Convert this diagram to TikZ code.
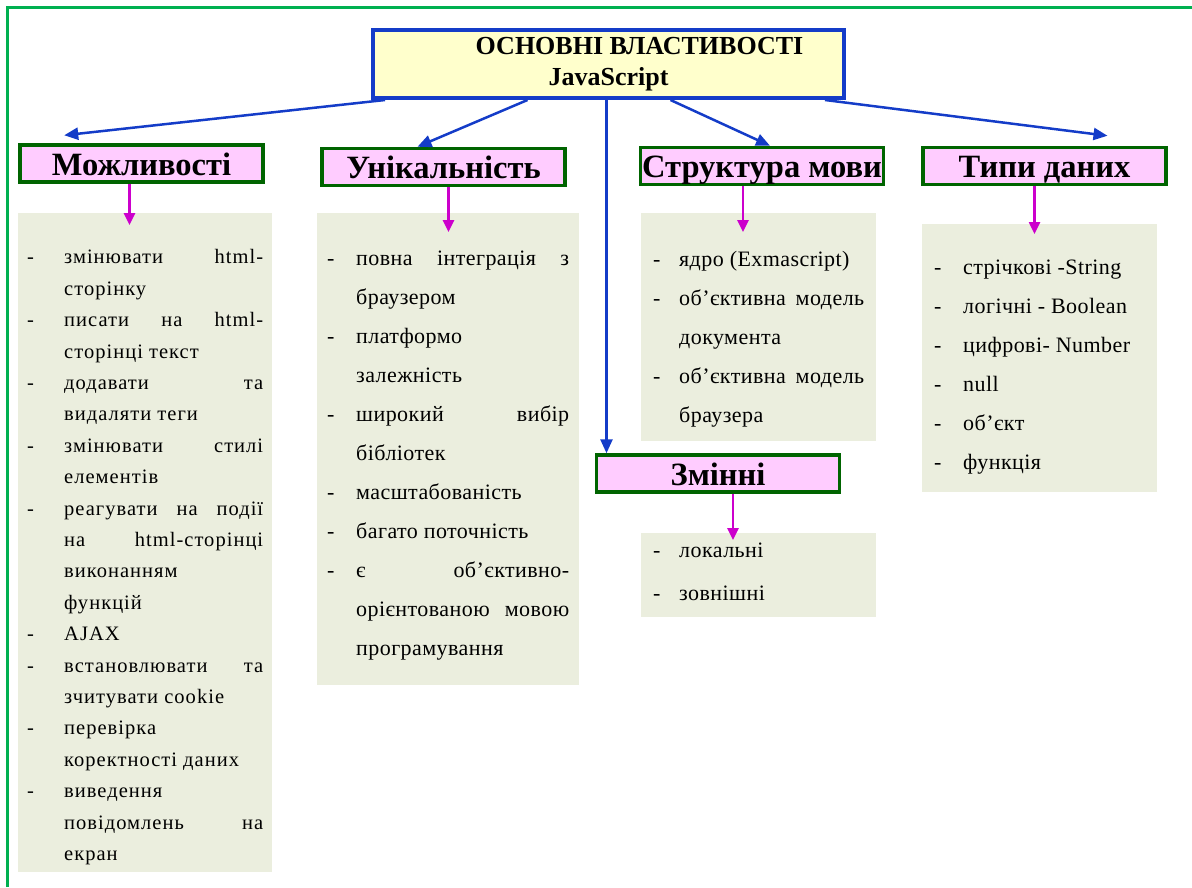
\documentclass[tikz,border=0pt]{standalone}
\usepackage{fontspec}
\setmainfont{Liberation Serif}
\usetikzlibrary{arrows.meta}
\definecolor{jsblue}{RGB}{20,60,200}
\definecolor{jsyellow}{RGB}{255,255,204}
\definecolor{jsgreen}{RGB}{0,100,0}
\definecolor{jspink}{RGB}{255,204,255}
\definecolor{jsmagenta}{RGB}{204,0,204}
\definecolor{jsgray}{RGB}{235,238,222}
\definecolor{jsframe}{RGB}{0,176,80}
\newlength{\dashw}
\newcommand{\itm}[1]{\hangindent=\dashw\hangafter=1\noindent\makebox[\dashw][l]{-}#1\par}
\hyphenpenalty=10000
\exhyphenpenalty=10000

\begin{document}
\begin{tikzpicture}[x=1pt,y=-1pt,
    >={Triangle[length=14pt,width=12pt]},
    topbox/.style={draw=jsblue,fill=jsyellow,line width=4pt,
        minimum width=471pt,minimum height=68pt,align=center,
        font=\fontsize{26}{31}\selectfont\bfseries},
    headbox/.style={draw=jsgreen,fill=jspink,line width=3.5pt,
        minimum width=243pt,minimum height=37pt,inner sep=0pt,
        text height=26pt,text depth=3pt,
        font=\fontsize{32.5}{34}\selectfont\bfseries},
    listbox/.style={fill=jsgray,anchor=north west,align=justify,
        inner xsep=12pt,inner ysep=0pt,
        font=\fontsize{22}{39}\selectfont\addfontfeature{LetterSpace=2}\setlength{\dashw}{29pt}},
    blue arrow/.style={->,draw=jsblue,line width=2.5pt},
    pink arrow/.style={->,draw=jsmagenta,line width=2.5pt,
        >={Triangle[length=12pt,width=11pt]}}]
    \useasboundingbox (0,0) rectangle (1192,887);
    \draw[jsframe,line width=3pt] (7,887) -- (7,7) -- (1192,7);

    \node[topbox] (T) at (608.5,64)
        {\hspace*{62pt}ОСНОВНІ ВЛАСТИВОСТІ\\JavaScript};
    \node[headbox] (A) at (141.5,163.5) {Можливості};
    \node[headbox] (B) at (443.5,167) {Унікальність};
    \node[headbox] (C) at (762,166) {Структура мови};
    \node[headbox] (D) at (1044.5,166) {Типи даних};
    \node[headbox] (E) at (718,473.5) {Змінні};

    \node[listbox,text width=236pt,inner xsep=9pt,minimum height=659pt,
        font=\fontsize{20.5}{31.4}\selectfont\addfontfeature{LetterSpace=5}\setlength{\dashw}{37pt}]
        (a) at (18,213) {%
        \itm{змінювати html-\linebreak сторінку}
        \itm{писати на html-\linebreak сторінці текст}
        \itm{додавати та\linebreak видаляти теги}
        \itm{змінювати стилі\linebreak елементів}
        \itm{реагувати на події\linebreak на html-сторінці\linebreak виконанням\linebreak функцій}
        \itm{AJAX}
        \itm{встановлювати та\linebreak зчитувати cookie}
        \itm{перевірка\linebreak коректності даних}
        \itm{виведення\linebreak повідомлень на\linebreak екран}
        \kern-29pt};
    \node[listbox,text width=242pt,inner xsep=10pt,minimum height=472pt]
        (b) at (317,213) {%
        \itm{повна інтеграція з\linebreak браузером}
        \itm{платформо\linebreak залежність}
        \itm{широкий вибір\linebreak бібліотек}
        \itm{масштабованість}
        \itm{багато поточність}
        \itm{є об’єктивно-\linebreak орієнтованою мовою\linebreak програмування}
        \kern-12pt};
    \node[listbox,text width=211pt,minimum height=228pt,
        font=\fontsize{22}{39}\selectfont\addfontfeature{LetterSpace=2}\setlength{\dashw}{26pt}]
        (c) at (641,213) {%
        \itm{ядро (Exmascript)}
        \itm{об’єктивна модель\linebreak документа}
        \itm{об’єктивна модель\linebreak браузера}
        \kern-24pt};
    \node[listbox,text width=211pt,minimum height=84pt,
        font=\fontsize{22}{43}\selectfont\addfontfeature{LetterSpace=2}\setlength{\dashw}{26pt}]
        (e) at (641,533) {%
        \itm{локальні}
        \itm{зовнішні}
        \kern6pt};
    \node[listbox,text width=211pt,minimum height=268pt]
        (d) at (922,224) {%
        \itm{стрічкові -String}
        \itm{логічні - Boolean}
        \itm{цифрові- Number}
        \itm{null}
        \itm{об’єкт}
        \itm{функція}
        \kern-18pt};

    \draw[blue arrow] ([xshift=14pt]T.south west) to ([xshift=46pt,yshift=8pt]A.north west);
    \draw[blue arrow] ([xshift=-81pt]T.south) to ([xshift=-26pt]B.north);
    \draw[blue arrow] ([xshift=-2pt]T.south) to ([xshift=-2pt]T.south |- E.north);
    \draw[blue arrow] ([xshift=62pt]T.south) to ([xshift=8pt]C.north);
    \draw[blue arrow] ([xshift=-21pt]T.south east) to ([xshift=63pt,yshift=10pt]D.north);

    \draw[pink arrow] ([xshift=-12pt]A.south) to ([xshift=-12pt,yshift=-12pt]A.south |- a.north);
    \draw[pink arrow] ([xshift=5pt]B.south) to ([xshift=5pt,yshift=-19pt]B.south |- b.north);
    \draw[pink arrow] ([xshift=-19pt]C.south) to ([xshift=-19pt,yshift=-19pt]C.south |- c.north);
    \draw[pink arrow] ([xshift=-10pt]D.south) to ([xshift=-10pt,yshift=-10pt]D.south |- d.north);
    \draw[pink arrow] ([xshift=15pt]E.south) to ([xshift=15pt,yshift=-7pt]E.south |- e.north);
\end{tikzpicture}
\end{document}
